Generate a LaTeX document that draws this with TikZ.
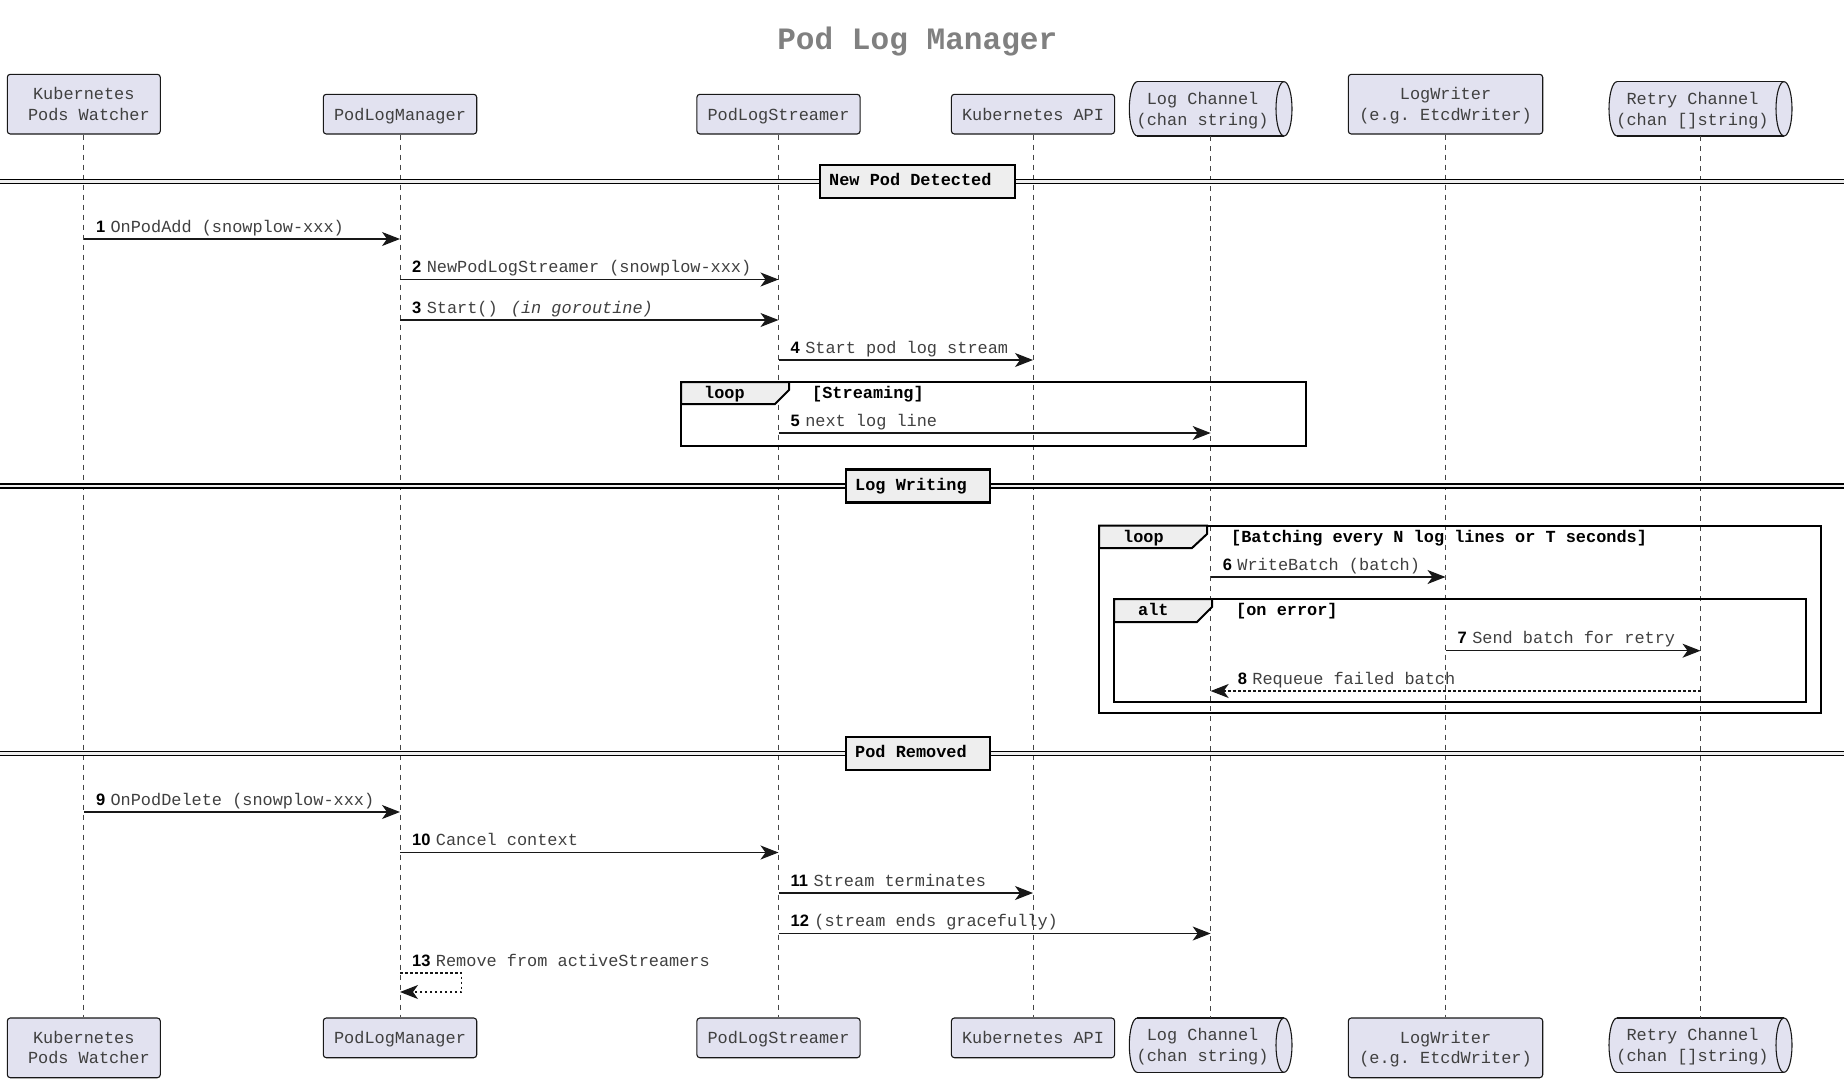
\documentclass[tikz,border=0pt]{standalone}
\usepackage{fontspec}
\setmonofont{Liberation Mono}
\newfontfamily\seqnumfont{Liberation Sans}
\usetikzlibrary{arrows.meta,calc}
\definecolor{partfill}{HTML}{E2E2F0}
\definecolor{linec}{HTML}{181818}
\definecolor{tabfill}{HTML}{EEEEEE}
\definecolor{txtc}{HTML}{404040}
\definecolor{titlec}{HTML}{808080}
\tikzset{
  part/.style={draw=linec, fill=partfill, rounded corners=3pt, line width=1.1pt, inner sep=0pt},
  partline/.style={draw=linec, line width=1.1pt},
  ptxt/.style={font=\ttfamily\fontsize{16.9}{20}\selectfont, text=txtc, inner sep=0pt, anchor=base},
  lifeline/.style={draw=linec!80, line width=1pt, dash pattern=on 5pt off 5pt},
  msgline/.style={draw=linec, line width=1.2pt, -{Stealth[length=18pt,width=14pt,inset=5pt]}},
  retline/.style={msgline, dash pattern=on 2.5pt off 2.5pt},
  seqnum/.style={font=\seqnumfont\bfseries\fontsize{16.5}{19}\selectfont, inner sep=0pt, anchor=base west},
  mtxt/.style={font=\ttfamily\fontsize{16.9}{20}\selectfont, text=txtc, inner sep=0pt, anchor=base west},
  btxt/.style={font=\ttfamily\bfseries\fontsize{16.9}{20}\selectfont, text=black, inner sep=0pt, anchor=base west},
  grpframe/.style={draw=black, line width=2pt, line join=miter},
  grptab/.style={draw=black, fill=tabfill, line width=2pt, line join=miter},
  divbox/.style={draw=black, fill=tabfill, line width=2.6pt, inner sep=0pt, minimum height=33pt},
  divline/.style={draw=black, line width=1.2pt},
}
\newcommand\mkcyl[5]{%
  \pgfmathsetmacro\cylM{(#4+#5)/2}%
  \pgfmathsetmacro\cylRy{(#5-#4)/2}%
  \pgfmathsetmacro\cylA{#2+8}%
  \pgfmathsetmacro\cylB{#3-8}%
  \pgfmathsetmacro\cylC{(#2+#3)/2}%
  \pgfmathsetmacro\cylW{#3-#2}%
  \pgfmathsetmacro\cylH{#5-#4}%
  \fill[partfill] (\cylA,#4) rectangle (\cylB,#5);
  \fill[partfill] (\cylA,\cylM) ellipse[x radius=8,y radius=\cylRy];
  \draw[partline] (\cylA,#4) -- (\cylB,#4) (\cylA,#5) -- (\cylB,#5);
  \filldraw[partline, fill=partfill] (\cylB,\cylM) ellipse[x radius=8,y radius=\cylRy];
  \draw[partline] (\cylA,#4) arc[start angle=270,end angle=90,x radius=8,y radius=\cylRy];
  \node[minimum width=\cylW pt, minimum height=\cylH pt, inner sep=0pt] (#1) at (\cylC,\cylM) {};
}
\newcommand\mkmsg[7]{%
  \coordinate (#1) at (0,#2);
  \draw[#7] (#3 |- #1) -- (#4 |- #1);
  \node[seqnum] (#1n) at ($(#3 |- #1)+(12,-7)$) {#5};
  \node[mtxt] (#1t) at ([xshift=5pt]#1n.base east) {#6};
}
\newcommand\mkdiv[5]{% name, center y, box left, box right, text
  \pgfmathsetmacro\divA{#2-2}%
  \pgfmathsetmacro\divB{#2+2}%
  \pgfmathsetmacro\divW{#4-#3}%
  \pgfmathsetmacro\divX{(#3+#4)/2}%
  \pgfmathsetmacro\divT{#2+4}%
  \pgfmathsetmacro\divTx{#3+9}%
  \fill[tabfill] (0,\divA) rectangle (1844,\divB);
  \draw[divline] (0,\divA) -- (1844,\divA) (0,\divB) -- (1844,\divB);
  \node[divbox, minimum width=\divW pt] (#1) at (\divX,#2) {};
  \node[btxt] (#1t) at (\divTx,\divT) {#5};
}
\begin{document}
\begin{tikzpicture}[x=1pt,y=-1pt]
\useasboundingbox (0,0) rectangle (1844,1084);

% title
\node[font=\ttfamily\bfseries\fontsize{31.1}{36}\selectfont, text=titlec, inner sep=0pt, anchor=base] (title) at (917.3,49.3) {Pod Log Manager};

% top participants
\node[part, minimum width=153pt, minimum height=59.7pt] (pw) at (83.8,104.15) {};
\node[ptxt] (pwt1) at (83.8,99.3) {Kubernetes};
\node[ptxt] (pwt2) at (83.8,120) {\hphantom{P}Pods Watcher};
\node[part, minimum width=153.4pt, minimum height=39.7pt] (plm) at (400,114.15) {};
\node[ptxt] (plmt) at (400,120) {PodLogManager};
\node[part, minimum width=163.2pt, minimum height=39.7pt] (pls) at (778.5,114.15) {};
\node[ptxt] (plst) at (778.5,120) {PodLogStreamer};
\node[part, minimum width=163.2pt, minimum height=39.7pt] (api) at (1033,114.15) {};
\node[ptxt] (apit) at (1033,120) {Kubernetes API};
\mkcyl{lc}{1129.3}{1292}{81.7}{136}
\node[ptxt] (lct1) at (1202.6,104) {Log Channel};
\node[ptxt] (lct2) at (1202.6,125) {(chan string)};
\node[part, minimum width=194.4pt, minimum height=59.7pt] (lw) at (1445.5,104.15) {};
\node[ptxt] (lwt1) at (1445.5,99.3) {LogWriter};
\node[ptxt] (lwt2) at (1445.5,120) {(e.g. EtcdWriter)};
\mkcyl{rc}{1609}{1792}{81.7}{136}
\node[ptxt] (rct1) at (1692.5,104) {Retry Channel};
\node[ptxt] (rct2) at (1692.5,125) {(chan []string)};

% bottom participants
\node[part, minimum width=153pt, minimum height=59.7pt] (pwB) at (83.8,1047.85) {};
\node[ptxt] (pwBt1) at (83.8,1043) {Kubernetes};
\node[ptxt] (pwBt2) at (83.8,1063.7) {\hphantom{P}Pods Watcher};
\node[part, minimum width=153.4pt, minimum height=39.7pt] (plmB) at (400,1037.85) {};
\node[ptxt] (plmBt) at (400,1043.7) {PodLogManager};
\node[part, minimum width=163.2pt, minimum height=39.7pt] (plsB) at (778.5,1037.85) {};
\node[ptxt] (plsBt) at (778.5,1043.7) {PodLogStreamer};
\node[part, minimum width=163.2pt, minimum height=39.7pt] (apiB) at (1033,1037.85) {};
\node[ptxt] (apiBt) at (1033,1043.7) {Kubernetes API};
\mkcyl{lcB}{1129.3}{1292}{1018}{1072.3}
\node[ptxt] (lcBt1) at (1202.6,1040.3) {Log Channel};
\node[ptxt] (lcBt2) at (1202.6,1061.3) {(chan string)};
\node[part, minimum width=194.4pt, minimum height=59.7pt] (lwB) at (1445.5,1047.85) {};
\node[ptxt] (lwBt1) at (1445.5,1043) {LogWriter};
\node[ptxt] (lwBt2) at (1445.5,1063.7) {(e.g. EtcdWriter)};
\mkcyl{rcB}{1609}{1792}{1018}{1072.3}
\node[ptxt] (rcBt1) at (1692.5,1040.3) {Retry Channel};
\node[ptxt] (rcBt2) at (1692.5,1061.3) {(chan []string)};

% lifelines
\draw[lifeline] (pw.south) -- (pwB.north);
\draw[lifeline] (plm.south) -- (plmB.north);
\draw[lifeline] (pls.south) -- (plsB.north);
\draw[lifeline] (api.south) -- (apiB.north);
\draw[lifeline] (lc.south) -- (lcB.north);
\draw[lifeline] (lw.south) -- (lwB.north);
\draw[lifeline] (rc.south) -- (rcB.north);

% dividers
\mkdiv{d1}{181.5}{820}{1015}{New Pod Detected}
\mkdiv{d2}{486}{846}{990}{Log Writing}
\mkdiv{d3}{753.5}{846}{990}{Pod Removed}

% group frames
\draw[grpframe] (681,382) rectangle (1306,446);
\filldraw[grptab] (681,382) -- (789,382) -- (789,390) -- (775,404) -- (681,404) -- cycle;
\node[btxt] (g1a) at (704,398) {loop};
\node[btxt] (g1b) at (812,398) {[Streaming]};

\draw[grpframe] (1099,525.7) rectangle (1821,712.7);
\filldraw[grptab] (1099,525.7) -- (1207,525.7) -- (1207,534) -- (1192,548) -- (1099,548) -- cycle;
\node[btxt] (g2a) at (1123,542) {loop};
\node[btxt] (g2b) at (1231,542) {[Batching every N log lines or T seconds]};

\draw[grpframe] (1114,599) rectangle (1806,702);
\filldraw[grptab] (1114,599) -- (1212,599) -- (1212,607) -- (1197,622) -- (1114,622) -- cycle;
\node[btxt] (g3a) at (1138,615.5) {alt};
\node[btxt] (g3b) at (1236,615.5) {[on error]};

% messages
\mkmsg{r1}{239}{pw}{plm}{1}{OnPodAdd (snowplow-xxx)}{msgline}
\mkmsg{r2}{279.5}{plm}{pls}{2}{NewPodLogStreamer (snowplow-xxx)}{msgline}
\mkmsg{r3}{320}{plm}{pls}{3}{Start() \hspace{3pt}\textit{(in goroutine)}}{msgline}
\mkmsg{r4}{360}{pls}{api}{4}{Start pod log stream}{msgline}
\mkmsg{r5}{433}{pls}{lc}{5}{next log line}{msgline}
\mkmsg{r6}{577}{lc}{lw}{6}{WriteBatch (batch)}{msgline}
\mkmsg{r7}{650.7}{lw}{rc}{7}{Send batch for retry}{msgline}

\coordinate (r8) at (0,691);
\draw[retline] (rc |- r8) -- (lc |- r8);
\node[seqnum] (r8n) at ($(lc |- r8)+(27,-7)$) {8};
\node[mtxt] (r8t) at ([xshift=5pt]r8n.base east) {Requeue failed batch};

\mkmsg{r9}{812}{pw}{plm}{9}{OnPodDelete (snowplow-xxx)}{msgline}
\mkmsg{r10}{852.5}{plm}{pls}{10}{Cancel context}{msgline}
\mkmsg{r11}{893}{pls}{api}{11}{Stream terminates}{msgline}
\mkmsg{r12}{933.5}{pls}{lc}{12}{(stream ends gracefully)}{msgline}

\coordinate (r13) at (0,973);
\coordinate (r13b) at (0,992);
\draw[retline] (plm |- r13) -- ++(61.5,0) -- ++(0,19) -- (plm |- r13b);
\node[seqnum] (r13n) at ($(plm |- r13)+(12,-7)$) {13};
\node[mtxt] (r13t) at ([xshift=5pt]r13n.base east) {Remove from activeStreamers};
\end{tikzpicture}
\end{document}
